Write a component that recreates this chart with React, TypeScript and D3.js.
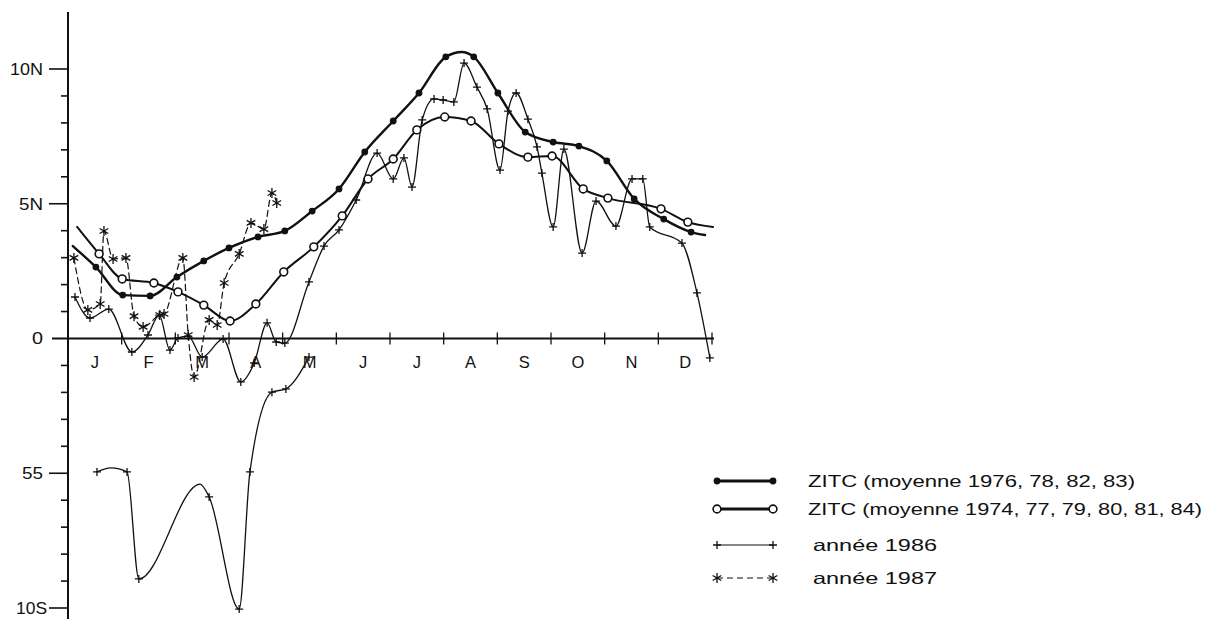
import React from "react";
import * as d3 from "d3";

// x: month of year (0 = 1 Jan, 12 = 31 Dec); y: latitude (positive = N, negative = S)
// third element 0 = curve point drawn without a marker
const months = ["J", "F", "M", "A", "M", "J", "J", "A", "S", "O", "N", "D"];
const latTicks = [10, 5, 0, -5, -10];
const latTickLabels = ["10N", "5N", "0", "55", "10S"];

const zitcA: number[][] = [
  [0.09, 3.43, 0], [0.52, 2.65], [1.02, 1.61], [1.53, 1.58], [2.03, 2.28], [2.53, 2.88],
  [3.0, 3.36], [3.54, 3.77], [4.04, 3.99], [4.55, 4.73], [5.05, 5.55], [5.53, 6.92],
  [6.06, 8.07], [6.54, 9.11], [7.04, 10.45], [7.34, 10.63, 0], [7.56, 10.45], [8.01, 9.11],
  [8.52, 7.66], [9.04, 7.29], [9.52, 7.14], [10.04, 6.59], [10.55, 5.18], [11.1, 4.43],
  [11.61, 3.95], [11.87, 3.84, 0],
];

const zitcB: number[][] = [
  [0.17, 4.14, 0], [0.58, 3.14], [1.01, 2.21], [1.6, 2.06], [2.05, 1.73], [2.53, 1.24],
  [3.02, 0.65], [3.5, 1.28], [4.02, 2.47], [4.58, 3.4], [5.11, 4.55], [5.59, 5.92],
  [6.06, 6.66], [6.5, 7.74], [7.02, 8.22], [7.51, 8.07], [8.03, 7.22], [8.57, 6.73],
  [9.02, 6.77], [9.6, 5.55], [10.06, 5.21], [11.05, 4.81], [11.55, 4.32], [12.02, 4.14, 0],
];

const y1986: number[][] = [
  [0.13, 1.54], [0.41, 0.76], [0.76, 1.09], [1.19, -0.5], [1.49, 0.13], [1.7, 0.87],
  [1.9, -0.43], [2.05, 0.02], [2.24, 0.09], [2.5, -0.69], [2.89, -0.02], [3.22, -1.61],
  [3.47, -0.91], [3.71, 0.58], [3.88, -0.13], [4.04, -0.17], [4.49, 2.1], [4.77, 3.43],
  [5.05, 4.03], [5.37, 5.14], [5.76, 6.88], [6.06, 5.92], [6.26, 6.7], [6.41, 5.62],
  [6.6, 8.11], [6.82, 8.89], [6.99, 8.85], [7.19, 8.78], [7.38, 10.22], [7.62, 9.33],
  [7.81, 8.52], [8.05, 6.25], [8.2, 8.44], [8.35, 9.11], [8.57, 8.14], [8.74, 7.11],
  [8.83, 6.14], [9.04, 4.14], [9.24, 7.03], [9.58, 3.17], [9.84, 5.1], [10.21, 4.17],
  [10.51, 5.92], [10.71, 5.92], [10.84, 4.14], [11.44, 3.54], [11.72, 1.69], [11.96, -0.72],
];

const y1986South: number[][] = [
  [0.54, -4.95], [0.8, -4.8, 0], [1.1, -4.95], [1.32, -8.92], [2.46, -5.4, 0], [2.63, -5.88],
  [3.19, -10.04], [3.39, -4.95], [3.8, -1.99], [4.06, -1.87], [4.49, -0.69],
];

const y1987: number[][] = [
  [0.11, 2.99], [0.37, 1.06], [0.6, 1.28], [0.67, 3.99], [0.84, 2.95], [1.08, 2.99],
  [1.23, 0.83], [1.4, 0.43], [1.71, 0.87], [1.79, 0.91], [2.14, 2.99], [2.24, 0.13],
  [2.35, -1.43], [2.63, 0.69], [2.78, 0.5], [2.91, 2.06], [3.19, 3.14], [3.41, 4.29],
  [3.65, 4.06], [3.8, 5.4], [3.89, 5.03],
];

const legendLabels = [
  "ZITC (moyenne 1976, 78, 82, 83)",
  "ZITC (moyenne 1974, 77, 79, 80, 81, 84)",
  "année 1986",
  "année 1987",
];

const FONT = "'Liberation Sans', Arial, Helvetica, sans-serif";

const x = d3.scaleLinear().domain([0, 12]).range([68, 712]);
const y = d3.scaleLinear().domain([-10, 10]).range([608, 69]);

const line = d3
  .line<number[]>()
  .x((d) => x(d[0]))
  .y((d) => y(d[1]))
  .curve(d3.curveMonotoneX);

const plusPath = (r: number) => `M${-r},0H${r}M0,${-r}V${r}`;
const starPath = (r: number) => {
  const a = r * Math.cos(Math.PI / 6);
  const b = r * Math.sin(Math.PI / 6);
  return `M0,${-r}V${r}M${-a},${-b}L${a},${b}M${-a},${b}L${a},${-b}`;
};

type Kind = "filled" | "open" | "plus" | "star";

function Marker({ kind, cx, cy }: { kind: Kind; cx: number; cy: number }) {
  if (kind === "filled") return <circle cx={cx} cy={cy} r={3.4} fill="#111" />;
  if (kind === "open")
    return <circle cx={cx} cy={cy} r={3.9} fill="#fff" stroke="#111" strokeWidth={1.6} />;
  if (kind === "plus")
    return <path d={plusPath(4)} transform={`translate(${cx},${cy})`} stroke="#111" strokeWidth={1.3} fill="none" />;
  return <path d={starPath(5)} transform={`translate(${cx},${cy})`} stroke="#111" strokeWidth={1.3} fill="none" />;
}

function Series({ data, kind, width, dash }: { data: number[][]; kind: Kind; width: number; dash?: string }) {
  return (
    <g>
      <path d={line(data) || ""} fill="none" stroke="#111" strokeWidth={width} strokeDasharray={dash} strokeLinejoin="round" strokeLinecap="round" />
      {data
        .filter((d) => d[2] !== 0)
        .map((d, i) => (
          <Marker key={i} kind={kind} cx={x(d[0])} cy={y(d[1])} />
        ))}
    </g>
  );
}

export default function App() {
  const y0 = y(0);
  const intTicks = d3.range(-10, 11);
  const labelWidths = [33, 24, 11, 21, 31];
  const legendRows: { kind: Kind; yy: number; tx: number; tl: number; width: number; dash?: string }[] = [
    { kind: "filled", yy: 481, tx: 808, tl: 327, width: 3 },
    { kind: "open", yy: 509, tx: 808, tl: 394, width: 3 },
    { kind: "plus", yy: 545, tx: 813, tl: 124, width: 1.2 },
    { kind: "star", yy: 578, tx: 813, tl: 124, width: 1.2, dash: "6,4" },
  ];
  return (
    <svg width={1210} height={619} style={{ position: "absolute", left: 0, top: 0, background: "#fff" }} fontFamily={FONT}>
      <rect width={1210} height={619} fill="#fff" />
      {/* y axis */}
      <line x1={68} x2={68} y1={12} y2={619} stroke="#111" strokeWidth={2} />
      {intTicks
        .filter((v) => v !== 0)
        .map((v) => (
          <line key={v} x1={v % 5 === 0 ? 49 : 61} x2={68} y1={y(v)} y2={y(v)} stroke="#111" strokeWidth={1.6} />
        ))}
      {latTicks.map((v, i) => (
        <text key={v} x={v === -10 ? 47 : 43} y={y(v)} dy="0.36em" textAnchor="end" fontSize={16.5} fill="#111" textLength={labelWidths[i]} lengthAdjust="spacingAndGlyphs">
          {latTickLabels[i]}
        </text>
      ))}
      {/* x axis */}
      <line x1={52} x2={714} y1={y0} y2={y0} stroke="#111" strokeWidth={2} />
      {d3.range(1, 13).map((m) => (
        <line key={m} x1={x(m)} x2={x(m)} y1={y0 - 6} y2={y0 + 6} stroke="#111" strokeWidth={1.3} />
      ))}
      {months.map((mo, i) => (
        <text key={i} x={x(i + 0.5)} y={y0 + 29} textAnchor="middle" fontSize={16.5} fill="#111">
          {mo}
        </text>
      ))}
      {/* series */}
      <Series data={y1987} kind="star" width={1.2} dash="6,4" />
      <Series data={y1986South} kind="plus" width={1.3} />
      <Series data={y1986} kind="plus" width={1.3} />
      <Series data={zitcB} kind="open" width={2} />
      <Series data={zitcA} kind="filled" width={2.4} />
      {/* legend */}
      {legendRows.map((r, i) => (
        <g key={i}>
          <line x1={717} x2={773} y1={r.yy} y2={r.yy} stroke="#111" strokeWidth={r.width} strokeDasharray={r.dash} />
          <Marker kind={r.kind} cx={717} cy={r.yy} />
          <Marker kind={r.kind} cx={773} cy={r.yy} />
          <text x={r.tx} y={r.yy} dy="0.36em" fontSize={16.5} fill="#111" textLength={r.tl} lengthAdjust="spacingAndGlyphs">
            {legendLabels[i]}
          </text>
        </g>
      ))}
    </svg>
  );
}
